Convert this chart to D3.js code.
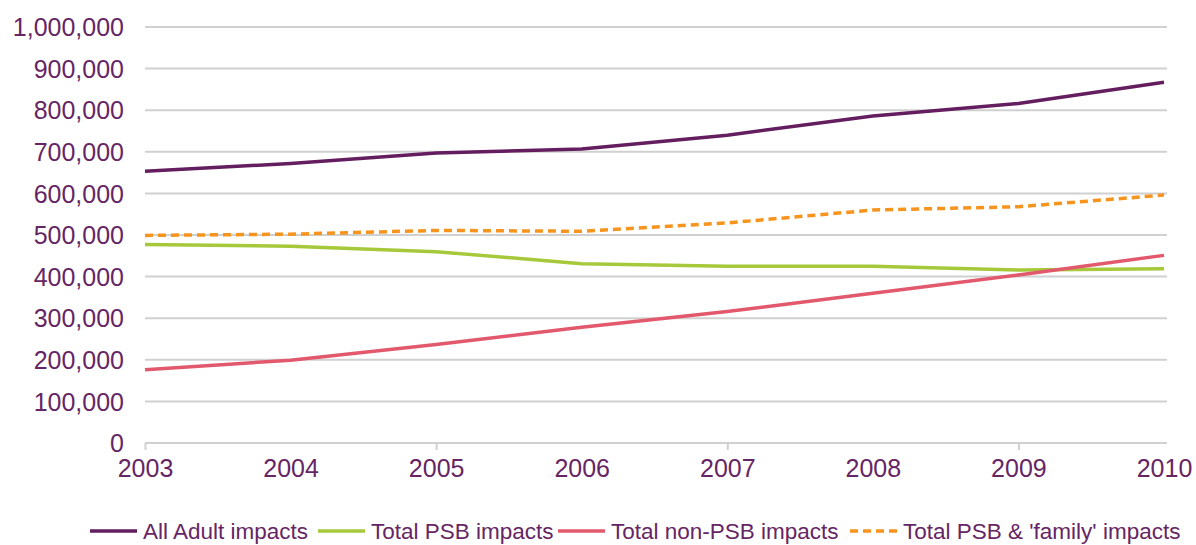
<!DOCTYPE html>
<html>
<head>
<meta charset="utf-8">
<script src="https://cdn.jsdelivr.net/npm/d3@7"></script>
<style>
  body { margin: 0; background: #fff; }
  text { font-family: "Liberation Sans", Arial, sans-serif; fill: #662564; }
</style>
</head>
<body>
<div id="graf"></div>
<script>
// Datos
const anios = [2003, 2004, 2005, 2006, 2007, 2008, 2009, 2010]
const adultos = [653000, 672000, 697000, 707000, 740000, 786000, 816000, 867000]
const psb = [477000, 473000, 460000, 431000, 425000, 425000, 416000, 419000]
const noPsb = [176000, 199000, 237000, 278000, 316000, 360000, 404000, 451000]
const familia = [499000, 502000, 511000, 509000, 529000, 560000, 568000, 596000]
const yTicks = [0, 100000, 200000, 300000, 400000, 500000, 600000, 700000, 800000, 900000, 1000000]
const marcasX = [2003, 2005, 2007, 2009]

const series = [
    { nombre: 'All Adult impacts', valores: adultos, color: '#641e5f', dash: null },
    { nombre: 'Total PSB impacts', valores: psb, color: '#a5c93a', dash: null },
    { nombre: 'Total non-PSB  impacts', valores: noPsb, color: '#e2586c', dash: null },
    { nombre: "Total PSB & 'family' impacts", valores: familia, color: '#f7941d', dash: '8,5' }
]

const ancho = 1196
const alto = 545
const izq = 145, der = 1164, arriba = 27, abajo = 443

const svg = d3.select('#graf')
    .append('svg')
    .attr('width', ancho)
    .attr('height', alto)

const xScale = d3.scaleLinear()
    .domain([d3.min(anios), d3.max(anios)])
    .range([izq, der])

const yScale = d3.scaleLinear()
    .domain([0, 1000000])
    .range([abajo, arriba])

// Líneas de cuadrícula
svg.append('g')
    .selectAll('line')
    .data(yTicks)
    .enter()
    .append('line')
    .attr('x1', izq)
    .attr('x2', der + 3)
    .attr('y1', d => yScale(d))
    .attr('y2', d => yScale(d))
    .attr('stroke', '#d0d0d0')
    .attr('stroke-width', 2)

// Eje Y
const yAxis = d3.axisLeft(yScale)
    .tickValues(yTicks)
    .tickFormat(d3.format(','))
    .tickSize(0)
    .tickPadding(21)

const gy = svg.append('g')
    .attr('transform', `translate(${izq}, 0)`)
    .call(yAxis)
gy.select('.domain').remove()
gy.selectAll('text')
    .attr('font-size', 25)
    .attr('font-family', '"Liberation Sans", Arial, sans-serif')
    .attr('dy', '0.35em')

// Marcas del eje X (cada dos años)
const gm = svg.append('g')
    .attr('transform', `translate(0, ${abajo})`)
    .call(d3.axisBottom(xScale).tickValues(marcasX).tickFormat('').tickSize(7))
gm.select('.domain').attr('stroke', '#d0d0d0').attr('stroke-width', 2).attr('d', `M${izq},0H${der + 3}`)
gm.selectAll('.tick line').attr('stroke', '#d0d0d0').attr('stroke-width', 2)

// Etiquetas del eje X
const gx = svg.append('g')
    .attr('transform', `translate(0, ${abajo})`)
    .call(d3.axisBottom(xScale).tickValues(anios).tickFormat(d3.format('d')).tickSize(0).tickPadding(16))
gx.select('.domain').remove()
gx.selectAll('text')
    .attr('font-size', 25)
    .attr('font-family', '"Liberation Sans", Arial, sans-serif')
    .attr('fill', '#662564')

// Series
const linea = d3.line()
    .x((d, i) => xScale(anios[i]))
    .y(d => yScale(d))

svg.append('g')
    .selectAll('path')
    .data(series)
    .enter()
    .append('path')
    .attr('d', d => linea(d.valores))
    .attr('fill', 'none')
    .attr('stroke', d => d.color)
    .attr('stroke-width', 3.5)
    .attr('stroke-dasharray', d => d.dash)

// Leyenda
const leyendaX = [90, 318, 558, 850]
const leyenda = svg.append('g')
    .selectAll('g')
    .data(series)
    .enter()
    .append('g')
    .attr('transform', (d, i) => `translate(${leyendaX[i]}, 531)`)

leyenda.append('line')
    .attr('x1', 0)
    .attr('x2', 47)
    .attr('stroke', d => d.color)
    .attr('stroke-width', 3.5)
    .attr('stroke-dasharray', d => d.dash)

leyenda.append('text')
    .attr('x', 53)
    .attr('dy', '0.35em')
    .attr('font-size', 22.5)
    .text(d => d.nombre)
</script>
</body>
</html>
